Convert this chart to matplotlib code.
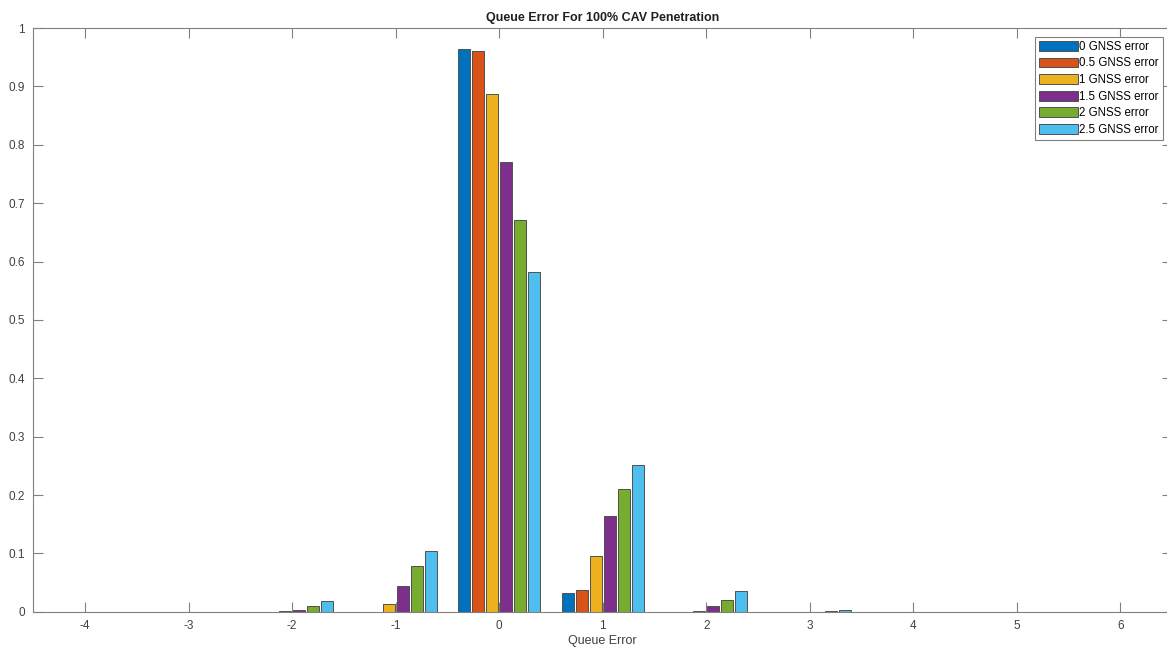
import numpy as np
import matplotlib.pyplot as plt

plt.rcParams['font.family'] = ['Liberation Sans', 'DejaVu Sans']
plt.rcParams['axes.unicode_minus'] = False

# Queue error categories
x = np.arange(-4, 7)
labels = ['0 GNSS error', '0.5 GNSS error', '1 GNSS error',
          '1.5 GNSS error', '2 GNSS error', '2.5 GNSS error']

# fraction of samples per queue error, one list per GNSS error level
gnss_0 = [0, 0, 0, 0, 0.965, 0.033, 0, 0, 0, 0, 0]
gnss_05 = [0, 0, 0, 0, 0.960, 0.038, 0, 0, 0, 0, 0]
gnss_1 = [0, 0, 0.001, 0.013, 0.887, 0.096, 0.002, 0, 0, 0, 0]
gnss_15 = [0, 0, 0.003, 0.045, 0.771, 0.165, 0.010, 0.0005, 0, 0, 0]
gnss_2 = [0, 0, 0.010, 0.079, 0.671, 0.211, 0.020, 0.002, 0, 0, 0]
gnss_25 = [0, 0, 0.019, 0.105, 0.582, 0.251, 0.036, 0.003, 0, 0, 0]
series = [gnss_0, gnss_05, gnss_1, gnss_15, gnss_2, gnss_25]

colors = ['#0072BD', '#D95319', '#EDB120', '#7E2F8E', '#77AC30', '#4DBEEE']

fig = plt.figure(figsize=(11.67, 6.53), dpi=100)
ax = fig.add_axes([0.0285, 0.063, 0.976, 0.894])

step = 0.135
for i, (vals, c, lab) in enumerate(zip(series, colors, labels)):
    ax.bar(x + (i - 2.5) * step, vals, width=0.115, color=c,
           edgecolor='#505050', linewidth=0.7, label=lab)

ax.set_xlim(-4.5, 6.5)
ax.set_ylim(0, 1)
ax.set_xticks(x)
ax.set_yticks(np.arange(0, 1.01, 0.1))
ax.set_yticklabels(['0'] + ['%.1f' % v for v in np.arange(0.1, 0.95, 0.1)] + ['1'])

for s in ax.spines.values():
    s.set_color('#808080')
    s.set_linewidth(0.8)
ax.tick_params(direction='in', top=True, right=True, length=7,
               color='#808080', labelcolor='#404040', labelsize=8.5, pad=6)

ax.set_title('Queue Error For 100% CAV Penetration', fontsize=9,
             fontweight='bold', color='#202020', pad=5)
ax.set_xlabel('Queue Error', fontsize=9, color='#404040', labelpad=2)

leg = ax.legend(loc='upper right', bbox_to_anchor=(0.992, 0.985),
                fontsize=8.3, handlelength=3.4, handleheight=0.95,
                handletextpad=0.15, labelspacing=0.4, borderpad=0.35,
                fancybox=False, framealpha=1, borderaxespad=0)
leg.get_frame().set_edgecolor('#808080')
leg.get_frame().set_linewidth(0.8)

plt.savefig('out.png', dpi=100)
